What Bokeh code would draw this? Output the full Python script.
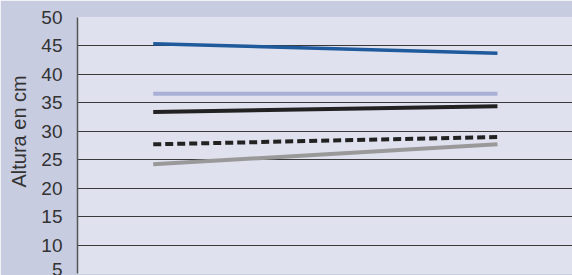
from bokeh.plotting import figure
from bokeh.embed import file_html
from bokeh.resources import INLINE
from bokeh.models import Range1d, FixedTicker, Title

# Data
x_pos = [0, 1]
serie_azul = [45.4, 43.7]
serie_lila = [36.6, 36.6]
serie_negra = [33.4, 34.4]
serie_punteada = [27.7, 29.0]
serie_gris = [24.2, 27.7]
y_ticks = [5, 10, 15, 20, 25, 30, 35, 40, 45, 50]
y_title = "Altura en cm"

BG = "#c8cce0"
PLOT_BG = "#dfe1ee"

p = figure(width=572, height=275, output_backend="svg", toolbar_location=None,
           x_range=Range1d(-0.22, 1.218), y_range=Range1d(5, 50),
           min_border_left=77, min_border_top=17, min_border_bottom=2, min_border_right=0)
p.background_fill_color = PLOT_BG
p.border_fill_color = BG
p.outline_line_color = None

p.xaxis.visible = False
p.xgrid.visible = False
p.ygrid.ticker = FixedTicker(ticks=y_ticks)
p.ygrid.grid_line_color = "#3a3a3a"
p.ygrid.grid_line_width = 1.2

ax = p.yaxis[0]
ax.ticker = FixedTicker(ticks=y_ticks)
ax.major_label_text_font = "Liberation Sans"
ax.major_label_text_font_size = "19px"
ax.major_label_text_color = "#333333"
ax.major_label_standoff = 9
ax.major_tick_line_color = None
ax.minor_tick_line_color = None
ax.axis_line_color = "#555555"
ax.axis_line_width = 1.5

ttl = Title(text=y_title, align="left", offset=86, standoff=14, vertical_align="top",
            text_font="Liberation Sans", text_font_size="20px",
            text_font_style="normal", text_color="#333333")
p.add_layout(ttl, "left")

p.line(x_pos, serie_azul, line_color="#1f5a9c", line_width=3.5)
p.line(x_pos, serie_lila, line_color="#a9b0d6", line_width=4)
p.line(x_pos, serie_negra, line_color="#222222", line_width=4)
p.line(x_pos, serie_punteada, line_color="#222222", line_width=4, line_dash="8 4")
p.line(x_pos, serie_gris, line_color="#999999", line_width=4)

html = file_html(p, INLINE)
html = html.replace("<body>", '<body style="margin:0;background:%s">' % BG, 1)
open("out.html", "w").write(html)
